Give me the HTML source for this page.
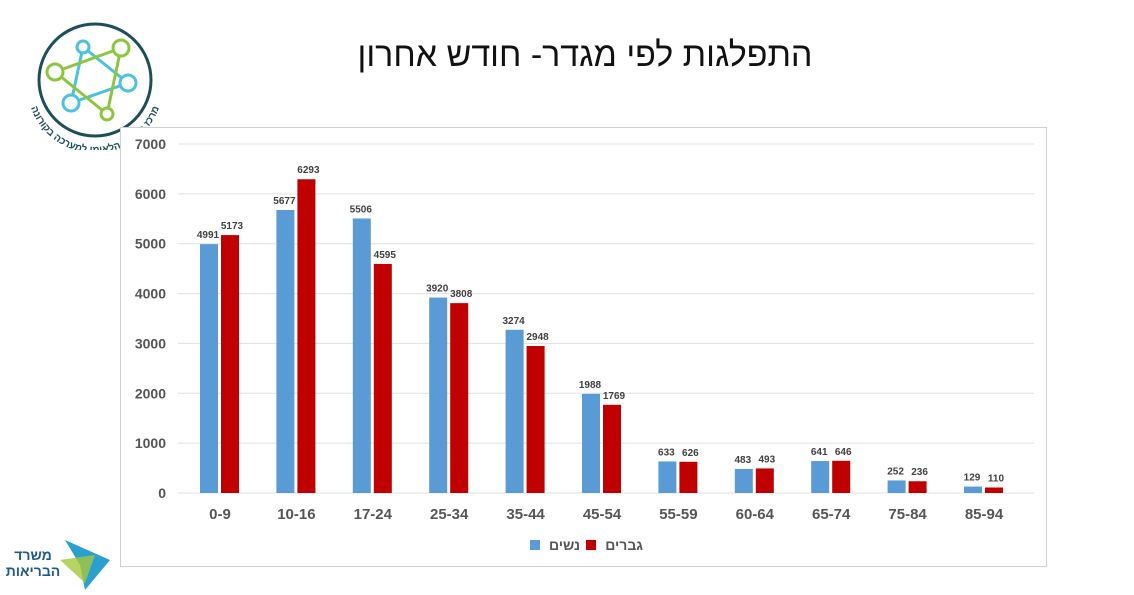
<!DOCTYPE html>
<html><head><meta charset="utf-8"><style>
body{margin:0;width:1134px;height:595px;background:#fff;overflow:hidden;position:relative;font-family:"Liberation Sans","Noto Sans CJK SC",sans-serif}
.t{position:absolute;left:300px;width:570px;top:36px;text-align:center;font-size:34px;color:#111;direction:rtl}
</style></head><body>
<div class="t">התפלגות לפי מגדר- חודש אחרון</div>
<svg style="position:absolute;left:15px;top:15px" width="160" height="135" viewBox="0 0 160 135">
<defs><path id="arc" d="M12,70 A68,68 0 0 0 148,70"/></defs>
<circle cx="80" cy="65" r="56" fill="none" stroke="#1d4e5a" stroke-width="3"/>
<g stroke-width="3" fill="#fff">
<line x1="68" y1="32" x2="113" y2="68" stroke="#4dc0e0"/><line x1="68" y1="32" x2="56" y2="88" stroke="#4dc0e0"/><line x1="56" y1="88" x2="113" y2="68" stroke="#4dc0e0"/>
<line x1="106" y1="33" x2="40" y2="57" stroke="#8cc63f"/><line x1="106" y1="33" x2="92" y2="99" stroke="#8cc63f"/><line x1="40" y1="57" x2="92" y2="99" stroke="#8cc63f"/>
<circle cx="68" cy="32" r="6" stroke="#4dc0e0"/><circle cx="113" cy="68" r="8" stroke="#4dc0e0"/><circle cx="56" cy="88" r="8" stroke="#4dc0e0"/>
<circle cx="106" cy="33" r="8" stroke="#8cc63f"/><circle cx="40" cy="57" r="8" stroke="#8cc63f"/><circle cx="92" cy="99" r="6" stroke="#8cc63f"/>
</g>
<text font-size="10" fill="#1d4e5a" font-weight="bold"><textPath href="#arc" startOffset="50%" text-anchor="middle">מרכז המידע הלאומי למערכה בקורונה</textPath></text>
</svg>
<svg style="position:absolute;left:5px;top:535px" width="110" height="60">
<polygon points="60,5 105,25 80,55 75,30" fill="#2aa0d0"/><polygon points="55,25 90,20 80,48" fill="#a8c83c" opacity="0.8"/>
<text x="28" y="25" font-size="14" font-weight="bold" fill="#1d5a8a" text-anchor="middle">משרד</text>
<text x="28" y="41" font-size="14" font-weight="bold" fill="#1d5a8a" text-anchor="middle">הבריאות</text>
</svg>
<svg id="c" style="position:absolute;left:0;top:0" width="1134" height="595"></svg>
<script>
const categories=["0-9","10-16","17-24","25-34","35-44","45-54","55-59","60-64","65-74","75-84","85-94"];
const women=[4991,5677,5506,3920,3274,1988,633,483,641,252,129];
const men=[5173,6293,4595,3808,2948,1769,626,493,646,236,110];
const yTicks=[0,1000,2000,3000,4000,5000,6000,7000];
const NS="http://www.w3.org/2000/svg";
const svg=document.getElementById('c');
function y(v){return 493-v*(349/7000);}
function xc(i){return 220+i*76.4;}
function mk(t,a,txt){const e=document.createElementNS(NS,t);for(const k in a)e.setAttribute(k,a[k]);if(txt!=null)e.textContent=txt;svg.appendChild(e);return e;}
const fr=mk('rect',{x:120.5,y:127.5,width:926,height:439,fill:'#fff',stroke:'#d0d0d0'});


yTicks.forEach(v=>{
 const l=mk('line',{x1:178,x2:1034,y1:y(v),y2:y(v),stroke:'#e0e0e0'});
 
 
 const t=mk('text',{x:166,y:y(v)+5,'text-anchor':'end','font-size':14,'font-weight':'bold',fill:'#555'},v);
 
 
});
categories.forEach((c,i)=>{
 const cx=xc(i);
 const b=mk('rect',{x:cx-20,y:y(women[i]),width:18,height:493-y(women[i]),fill:'#5b9bd5'});
 
 
 const r=mk('rect',{x:cx+1,y:y(men[i]),width:18,height:493-y(men[i]),fill:'#c00000'});
 
 
 const lw=mk('text',{x:cx-12,y:y(women[i])-6,'text-anchor':'middle','font-size':10,'font-weight':'bold',fill:'#404040'},women[i]);
 
 
 const lm=mk('text',{x:cx+12,y:y(men[i])-6,'text-anchor':'middle','font-size':10,'font-weight':'bold',fill:'#404040'},men[i]);
 
 
 const xl=mk('text',{x:cx,y:519,'text-anchor':'middle','font-size':15,'font-weight':'bold',fill:'#555'},c);
 
 
});
const g1=mk('rect',{x:530,y:540,width:10,height:10,fill:'#5b9bd5'});


const g2=mk('text',{x:580,y:550,'text-anchor':'end','font-size':14,'font-weight':'bold',fill:'#555'},'נשים');


const g3=mk('rect',{x:586,y:540,width:10,height:10,fill:'#c00000'});


const g4=mk('text',{x:643,y:550,'text-anchor':'end','font-size':14,'font-weight':'bold',fill:'#555'},'גברים');


</script>
</body></html>
